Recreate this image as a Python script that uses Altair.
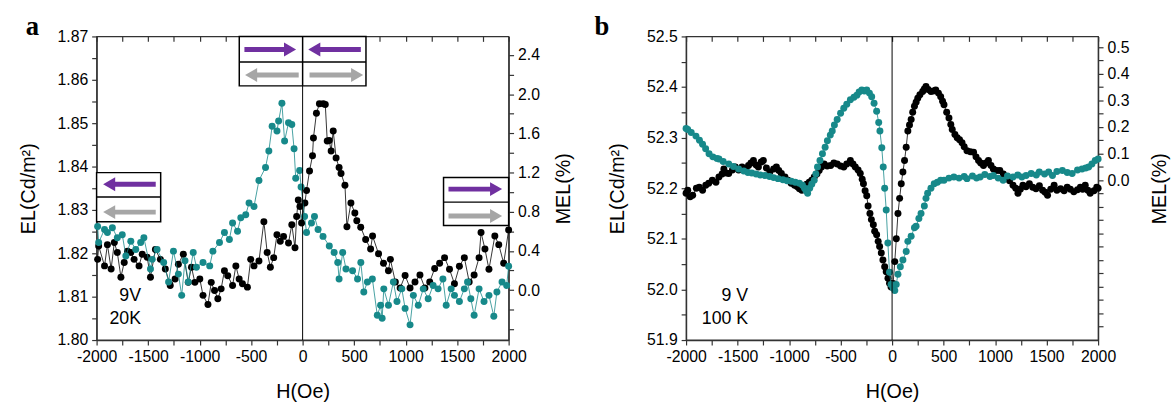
import altair as alt
import pandas as pd

# ---------------- panel a data (H in Oe, EL in Cd/m2) ----------------
a_black_H = [-1990, -1980, -1923, -1895, -1859, -1828, -1799, -1764, -1732, -1700, -1668, -1636,
             -1588, -1557, -1509, -1477, -1429, -1381, -1333, -1285, -1238, -1206, -1158, -1110,
             -1079, -1046, -998, -967, -919, -887, -855, -823, -791, -759, -727, -680, -648, -616,
             -584, -536, -504, -472, -424, -376, -344, -313, -281, -249, -217, -185, -137, -105,
             -74, -58, -42, -26, -10, 22, 38, 67, 96, 105, 134, 163, 201, 220, 239, 258, 277, 297,
             325, 354, 373, 411, 430, 469, 507, 526, 564, 612, 660, 679, 737, 785, 833, 852, 900,
             947, 995, 1043, 1091, 1139, 1187, 1234, 1282, 1330, 1378, 1426, 1474, 1522, 1570,
             1617, 1665, 1713, 1732, 1770, 1809, 1866, 1904, 1952, 2000]
a_black_EL = [1.8186, 1.8217, 1.8171, 1.8220, 1.8164, 1.8225, 1.8202, 1.8145, 1.8179, 1.8205, 1.8202,
              1.8186, 1.8171, 1.8198, 1.8191, 1.8145, 1.8209, 1.8186, 1.8164, 1.8126, 1.8141, 1.8175,
              1.8198, 1.8133, 1.8168, 1.8133, 1.8141, 1.8103, 1.8082, 1.8133, 1.8114, 1.8095, 1.8118,
              1.8160, 1.8148, 1.8126, 1.8171, 1.8141, 1.8130, 1.8122, 1.8186, 1.8171, 1.8182, 1.8273,
              1.8202, 1.8168, 1.8190, 1.8243, 1.8228, 1.8239, 1.8224, 1.8266, 1.8213, 1.8285, 1.8323,
              1.8308, 1.8270, 1.8316, 1.8345, 1.8390, 1.8425, 1.8466, 1.8523, 1.8545, 1.8545, 1.8543,
              1.8459, 1.8460, 1.8436, 1.8482, 1.8420, 1.8398, 1.8384, 1.8357, 1.8261, 1.8316, 1.8293,
              1.8275, 1.8260, 1.8232, 1.8210, 1.8240, 1.8199, 1.8177, 1.8160, 1.8186, 1.8134, 1.8120,
              1.8149, 1.8120, 1.8134, 1.8150, 1.8120, 1.8134, 1.8165, 1.8177, 1.8190, 1.8163, 1.8130,
              1.8170, 1.8190, 1.8134, 1.8150, 1.8190, 1.8248, 1.8210, 1.8163, 1.8240, 1.8220, 1.8177,
              1.8254]
a_teal_H = [-1990, -1980, -1923, -1895, -1847, -1799, -1751, -1716, -1668, -1620, -1572, -1541,
            -1477, -1460, -1413, -1349, -1301, -1254, -1206, -1174, -1142, -1110, -1062, -1031,
            -967, -902, -871, -807, -759, -711, -680, -632, -600, -552, -520, -472, -424, -360,
            -328, -296, -249, -233, -201, -175, -137, -105, -83, -67, -29, -15, 19, 38, 86, 115,
            150, 198, 259, 306, 341, 354, 389, 421, 485, 533, 565, 594, 629, 677, 725, 757, 772,
            788, 833, 881, 916, 963, 995, 1043, 1075, 1123, 1171, 1219, 1267, 1315, 1362, 1394,
            1442, 1474, 1522, 1570, 1601, 1633, 1665, 1713, 1761, 1809, 1856, 1886, 1936, 1981, 2000]
a_teal_EL = [1.8262, 1.8225, 1.8255, 1.8248, 1.8259, 1.8236, 1.8243, 1.8194, 1.8228, 1.8209, 1.8225,
             1.8236, 1.8164, 1.8186, 1.8209, 1.8179, 1.8134, 1.8205, 1.8152, 1.8103, 1.8183, 1.8134,
             1.8202, 1.8168, 1.8179, 1.8171, 1.8205, 1.8225, 1.8248, 1.8232, 1.8270, 1.8251, 1.8282,
             1.8289, 1.8316, 1.8308, 1.8368, 1.8398, 1.8436, 1.8493, 1.8482, 1.8505, 1.8546, 1.8459,
             1.8501, 1.8497, 1.8441, 1.8373, 1.8391, 1.8353, 1.8285, 1.8248, 1.8270, 1.8285, 1.8255,
             1.8239, 1.8217, 1.8202, 1.8179, 1.8141, 1.8202, 1.8164, 1.8160, 1.8141, 1.8179, 1.8111,
             1.8134, 1.8141, 1.8057, 1.8080, 1.8050, 1.8118, 1.8080, 1.8134, 1.8089, 1.8118, 1.8073,
             1.8035, 1.8103, 1.8080, 1.8118, 1.8095, 1.8126, 1.8118, 1.8141, 1.8080, 1.8118, 1.8103,
             1.8089, 1.8118, 1.8134, 1.8095, 1.8057, 1.8118, 1.8089, 1.8103, 1.8055, 1.8111, 1.8134,
             1.8126, 1.8170]

# ---------------- panel b data ----------------
b_black_H = [-2000, -1984, -1960, -1936, -1900, -1872, -1840, -1809, -1780, -1745, -1710, -1681,
             -1650, -1633, -1610, -1586, -1550, -1522, -1490, -1457, -1420, -1394, -1370, -1346,
             -1320, -1298, -1270, -1250, -1220, -1187, -1150, -1123, -1100, -1075, -1040, -1011,
             -980, -947, -920, -900, -876, -852, -830, -804, -780, -756, -730, -708, -685, -660,
             -630, -596, -565, -533, -500, -469, -440, -405, -380, -357, -330, -309, -290, -278,
             -262, -246, -233, -215, -201, -182, -169, -150, -135, -121, -105, -89, -72, -57, -40,
             -25, -10, 10, 26, 41, 57, 73, 89, 105, 121, 137, 153, 169, 185, 200, 217, 233, 249,
             270, 297, 313, 329, 350, 377, 400, 424, 450, 472, 490, 504, 530, 552, 570, 584, 610,
             632, 655, 679, 700, 727, 760, 791, 815, 839, 860, 887, 910, 935, 960, 983, 1015, 1046,
             1080, 1110, 1140, 1174, 1200, 1222, 1245, 1270, 1300, 1333, 1365, 1397, 1430, 1461,
             1485, 1509, 1540, 1573, 1600, 1636, 1670, 1700, 1730, 1764, 1800, 1828, 1850, 1875,
             1900, 1923, 1960, 1987, 2000]
b_black_EL = [52.190, 52.196, 52.183, 52.186, 52.200, 52.202, 52.196, 52.206, 52.210, 52.216, 52.212,
              52.222, 52.228, 52.238, 52.230, 52.229, 52.236, 52.242, 52.236, 52.242, 52.238, 52.245,
              52.250, 52.255, 52.246, 52.242, 52.252, 52.255, 52.240, 52.232, 52.238, 52.242, 52.235,
              52.229, 52.222, 52.216, 52.210, 52.206, 52.203, 52.199, 52.196, 52.202, 52.208, 52.212,
              52.216, 52.222, 52.228, 52.235, 52.242, 52.248, 52.244, 52.245, 52.250, 52.248, 52.244,
              52.242, 52.248, 52.255, 52.248, 52.242, 52.236, 52.229, 52.218, 52.209, 52.195, 52.185,
              52.165, 52.150, 52.138, 52.128, 52.115, 52.108, 52.095, 52.085, 52.072, 52.058, 52.045,
              52.035, 52.022, 52.012, 52.005, 52.012, 52.055, 52.100, 52.150, 52.180, 52.209, 52.232,
              52.255, 52.281, 52.313, 52.325, 52.336, 52.350, 52.362, 52.370, 52.378, 52.385, 52.391,
              52.396, 52.401, 52.395, 52.391, 52.392, 52.394, 52.388, 52.381, 52.372, 52.365, 52.350,
              52.339, 52.326, 52.316, 52.306, 52.300, 52.296, 52.290, 52.282, 52.274, 52.272, 52.271,
              52.262, 52.255, 52.250, 52.245, 52.250, 52.255, 52.245, 52.238, 52.235, 52.235, 52.228,
              52.222, 52.215, 52.206, 52.200, 52.190, 52.198, 52.206, 52.203, 52.209, 52.202, 52.199,
              52.205, 52.196, 52.192, 52.186, 52.198, 52.206, 52.196, 52.199, 52.195, 52.202, 52.198,
              52.193, 52.197, 52.202, 52.198, 52.206, 52.196, 52.190, 52.195, 52.202, 52.200]
b_teal_H = [-2000, -1984, -1950, -1904, -1870, -1840, -1810, -1777, -1740, -1700, -1681, -1640,
            -1586, -1540, -1490, -1440, -1400, -1362, -1320, -1280, -1234, -1190, -1150, -1107,
            -1060, -1020, -979, -940, -900, -870, -850, -835, -820, -800, -780, -756, -740, -724,
            -700, -676, -650, -628, -600, -581, -560, -533, -500, -469, -440, -405, -370, -342,
            -320, -294, -270, -246, -220, -198, -175, -150, -130, -118, -100, -86, -72, -57, -41,
            -25, -10, 10, 26, 40, 57, 80, 105, 137, 153, 185, 217, 233, 260, 281, 313, 329, 345,
            377, 409, 440, 472, 504, 552, 600, 650, 700, 727, 780, 820, 855, 900, 950, 983, 1030,
            1078, 1120, 1174, 1220, 1260, 1301, 1350, 1400, 1429, 1480, 1520, 1557, 1600, 1653,
            1700, 1748, 1800, 1844, 1880, 1908, 1940, 1972, 2000]
b_teal_EL = [52.318, 52.316, 52.310, 52.303, 52.295, 52.287, 52.278, 52.268, 52.262, 52.259, 52.258,
             52.253, 52.248, 52.243, 52.238, 52.234, 52.231, 52.230, 52.228, 52.226, 52.225, 52.223,
             52.221, 52.219, 52.217, 52.215, 52.214, 52.212, 52.210, 52.206, 52.200, 52.195, 52.190,
             52.200, 52.208, 52.216, 52.228, 52.242, 52.255, 52.268, 52.281, 52.294, 52.305, 52.313,
             52.325, 52.336, 52.348, 52.358, 52.366, 52.375, 52.380, 52.384, 52.390, 52.394, 52.392,
             52.394, 52.388, 52.381, 52.368, 52.352, 52.330, 52.313, 52.280, 52.242, 52.200, 52.157,
             52.092, 52.034, 52.010, 52.003, 51.998, 52.010, 52.030, 52.045, 52.058, 52.075, 52.095,
             52.105, 52.122, 52.125, 52.140, 52.150, 52.165, 52.180, 52.190, 52.200, 52.209, 52.212,
             52.216, 52.216, 52.220, 52.222, 52.220, 52.223, 52.219, 52.224, 52.220, 52.222, 52.227,
             52.223, 52.225, 52.220, 52.216, 52.224, 52.222, 52.226, 52.222, 52.225, 52.229, 52.226,
             52.232, 52.228, 52.232, 52.225, 52.233, 52.235, 52.231, 52.229, 52.236, 52.238, 52.240,
             52.242, 52.248, 52.255, 52.258]

# ---------------- axes ----------------
x_ticks = [-2000, -1750, -1500, -1250, -1000, -750, -500, -250, 0, 250, 500, 750, 1000, 1250,
           1500, 1750, 2000]
a_el_domain = [1.80, 1.87]
a_el_ticks = [1.800, 1.805, 1.810, 1.815, 1.820, 1.825, 1.830, 1.835, 1.840, 1.845, 1.850, 1.855,
              1.860, 1.865, 1.870]
a_mel_domain = [-0.51, 2.59]
a_mel_ticks = [-0.4, -0.2, 0.0, 0.2, 0.4, 0.6, 0.8, 1.0, 1.2, 1.4, 1.6, 1.8, 2.0, 2.2, 2.4]
b_el_domain = [51.9, 52.5]
b_el_ticks = [51.90, 51.95, 52.00, 52.05, 52.10, 52.15, 52.20, 52.25, 52.30, 52.35, 52.40, 52.45, 52.50]
b_mel_domain = [-0.60, 0.54]
b_mel_ticks = [-0.55, -0.5, -0.45, -0.4, -0.35, -0.3, -0.25, -0.2, -0.15, -0.1, -0.05, 0.0, 0.05,
               0.1, 0.15, 0.2, 0.25, 0.3, 0.35, 0.4, 0.45, 0.5]

# ---------------- annotations (panel a arrow boxes, data coordinates) ----------------
box_x1 = [-615, -2000, 1368]
box_x2 = [615, -1378, 2000]
box_y1 = [1.8586, 1.8273, 1.8264]
box_y2 = [1.8700, 1.8386, 1.8375]
box_mid = [1.8641, 1.8330, 1.8318]
arrow_tail = [-565, 565, -38, 67, -1426, -1426, 1416, 1416]
arrow_tip = [-67, 58, -555, 584, -1933, -1933, 1933, 1933]
arrow_y = [1.8670, 1.8670, 1.8611, 1.8611, 1.8359, 1.8295, 1.8348, 1.8286]
arrow_kind = ["p", "p", "g", "g", "p", "g", "p", "g"]

FONT = "Liberation Sans"
TEAL = "#17898a"
PURPLE = "#7030a0"
GRAY = "#a6a6a6"
W, HT = 418, 308
xscale = alt.Scale(domain=[-2000, 2000], nice=False, zero=False)
XN = dict(scale=xscale, axis=None)


def series_layers(hs, els, color, yscale):
    df = pd.DataFrame({"H": hs, "EL": els})
    line = alt.Chart(df).mark_line(color=color, strokeWidth=1, opacity=0.8).encode(
        x=alt.X("H:Q", **XN), y=alt.Y("EL:Q", scale=yscale, axis=None))
    pts = alt.Chart(df).mark_circle(color=color, size=50, opacity=1).encode(
        x=alt.X("H:Q", **XN), y=alt.Y("EL:Q", scale=yscale, axis=None))
    return [line, pts]


def panel(letter, bH, bEL, tH, tEL, el_dom, el_ticks, el_fmt, el_mod, mel_dom, mel_ticks,
          mel_mod, texts, text_x, text_y, with_boxes, letter_dx, mel_pad):
    yscale = alt.Scale(domain=el_dom, nice=False, zero=False)
    axis_df = pd.DataFrame({"H": [0.0], "EL": [el_dom[0]]})
    base_axes = alt.Chart(axis_df).mark_point(opacity=0).encode(
        x=alt.X("H:Q", scale=xscale, axis=alt.Axis(
            orient="bottom", values=x_ticks, title="H(Oe)",
            labelExpr="datum.value % 500 == 0 ? '' + datum.value : ''",
            labelFlush=False, labelOverlap=False,
            tickSize=5, labelPadding=4, titlePadding=17)),
        y=alt.Y("EL:Q", scale=yscale, axis=alt.Axis(
            orient="left", values=el_ticks, title="EL(Cd/m²)", tickSize=5, labelPadding=4,
            titlePadding=19, labelOverlap=False, labelFlush=False,
            labelExpr=f"round(datum.value*1000) % {el_mod} == 0 ? format(datum.value, '{el_fmt}') : ''")),
    )
    top_axis = alt.Chart(axis_df).mark_point(opacity=0).encode(
        x=alt.X("H:Q", scale=xscale, axis=alt.Axis(
            orient="top", values=x_ticks, labels=False, domain=False, title=None,
            tickSize=5, offset=-5)),
        y=alt.Y("EL:Q", scale=yscale, axis=None),
    )
    zero_line = alt.Chart(pd.DataFrame({"H": [0]})).mark_rule(color="black", strokeWidth=1).encode(
        x=alt.X("H:Q", **XN))

    layers = [base_axes, top_axis]
    layers += series_layers(bH, bEL, "black", yscale)
    layers += series_layers(tH, tEL, TEAL, yscale)
    layers.append(zero_line)

    if with_boxes:
        bdf = pd.DataFrame({"x1": box_x1, "x2": box_x2, "y1": box_y1, "y2": box_y2, "m": box_mid})
        rects = alt.Chart(bdf).mark_rect(fill="white", stroke="black", strokeWidth=1.5).encode(
            x=alt.X("x1:Q", **XN), x2="x2:Q",
            y=alt.Y("y1:Q", scale=yscale, axis=None), y2="y2:Q")
        mids = alt.Chart(bdf).mark_rule(color="black", strokeWidth=1.5).encode(
            x=alt.X("x1:Q", **XN), x2="x2:Q",
            y=alt.Y("m:Q", scale=yscale, axis=None))
        vdiv = alt.Chart(pd.DataFrame({"H": [0], "y1": [box_y1[0]], "y2": [box_y2[0]]})).mark_rule(
            color="black", strokeWidth=1.5).encode(
            x=alt.X("H:Q", **XN),
            y=alt.Y("y1:Q", scale=yscale, axis=None), y2="y2:Q")
        adf = pd.DataFrame({"tail": arrow_tail, "tip": arrow_tip, "y": arrow_y, "k": arrow_kind})
        adf["dir"] = (adf["tip"] - adf["tail"]).apply(lambda d: 1 if d > 0 else -1)
        adf["shaft_end"] = adf["tip"] - adf["dir"] * 90
        adf["head"] = adf["tip"] - adf["dir"] * 55
        adf["shape"] = adf["dir"].map({1: "triangle-right", -1: "triangle-left"})
        ccol = alt.Color("k:N", scale=alt.Scale(domain=["p", "g"], range=[PURPLE, GRAY]), legend=None)
        shafts = alt.Chart(adf).mark_rule(strokeWidth=5).encode(
            x=alt.X("tail:Q", **XN), x2="shaft_end:Q",
            y=alt.Y("y:Q", scale=yscale, axis=None), color=ccol)
        heads = alt.Chart(adf).mark_point(filled=True, size=200, opacity=1).encode(
            x=alt.X("head:Q", **XN),
            y=alt.Y("y:Q", scale=yscale, axis=None),
            shape=alt.Shape("shape:N", scale=None, legend=None), color=ccol)
        layers += [rects, mids, vdiv, shafts, heads]

    tdf = pd.DataFrame({"t": texts, "H": text_x, "EL": text_y})
    txt = alt.Chart(tdf).mark_text(align="right", baseline="alphabetic", font=FONT, fontSize=18,
                                   color="black").encode(
        x=alt.X("H:Q", **XN), y=alt.Y("EL:Q", scale=yscale, axis=None), text="t:N")
    lab = alt.Chart(pd.DataFrame({"t": [letter]})).mark_text(
        align="left", baseline="alphabetic", font="Liberation Serif", fontSize=27, fontWeight="bold",
        color="black").encode(x=alt.value(letter_dx), y=alt.value(-1), text="t:N")
    layers += [txt, lab]

    mel_df = pd.DataFrame({"MEL": [mel_dom[0]]})
    right = alt.Chart(mel_df).mark_point(opacity=0).encode(
        y=alt.Y("MEL:Q", scale=alt.Scale(domain=mel_dom, nice=False, zero=False), axis=alt.Axis(
            orient="right", values=mel_ticks, title="MEL(%)", titleAngle=270, titleBaseline="top",
            tickSize=5, labelPadding=4, titlePadding=mel_pad, labelOverlap=False, labelFlush=False,
            labelExpr=f"datum.value > -0.001 && abs(round(datum.value*100)) % {mel_mod} == 0 ? format(datum.value, '.1f') : ''")))
    layers.append(right)
    return alt.layer(*layers).resolve_scale(y="independent").resolve_axis(
        x="independent", y="independent").properties(width=W, height=HT)


pa = panel("a", a_black_H, a_black_EL, a_teal_H, a_teal_EL, a_el_domain, a_el_ticks, ".2f", 10,
           a_mel_domain, a_mel_ticks, 40, ["9V", "20K"], [-1569, -1569], [1.8091, 1.8036], True, -72, 14)
pb = panel("b", b_black_H, b_black_EL, b_teal_H, b_teal_EL, b_el_domain, b_el_ticks, ".1f", 100,
           b_mel_domain, b_mel_ticks, 10, ["9 V", "100 K"], [-1397, -1397], [51.978, 51.931], False, -93, 21)

chart = alt.hconcat(pa, pb, spacing=180, bounds="flush").properties(
    padding={"left": 18, "top": 10, "right": 5, "bottom": 5}
).configure_view(stroke="#333", strokeWidth=1.3).configure_axis(
    labelFont=FONT, titleFont=FONT, labelFontSize=16, titleFontSize=20, titleFontWeight="normal",
    labelColor="black", titleColor="black", domainColor="#333", tickColor="#333",
    domainWidth=1.3, tickWidth=1.2, grid=False
)

chart.save("out.html", embed_options={"renderer": "svg", "actions": False})
